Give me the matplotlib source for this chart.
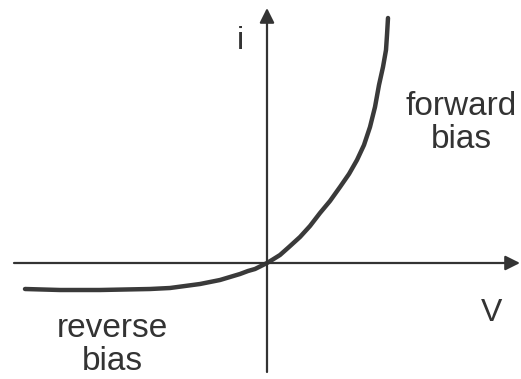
import numpy as np
import matplotlib
matplotlib.use('Agg')
from matplotlib import pyplot as plt

# diode i-V characteristic, sketched (origin at the axis crossing)
volts = [-242, -207, -167, -117, -97, -82, -67, -57, -47, -37, -27, -19, -12, -6, 0,
         5, 13, 22, 33, 43, 53, 63, 73, 82, 90, 97, 103, 108, 112, 116, 119, 120, 121]
current = [-26, -27, -27, -26, -25, -23, -21, -19, -17, -14, -11, -8, -6, -3, 0,
           3, 8, 16, 26, 37, 50, 62, 76, 89, 103, 118, 136, 156, 178, 196, 213, 228, 245]

axis_labels = ['V', 'i']
region_labels = ['forward\nbias', 'reverse\nbias']

ink = '#333333'

fig = plt.figure(figsize=(5.21, 3.79), dpi=100)
ax = fig.add_axes([0, 0, 1, 1])
ax.set_xlim(-267, 254)
ax.set_ylim(-116, 263)
ax.axis('off')

# axes with arrow heads
arrow = dict(arrowstyle='-|>', color=ink, lw=1.6, mutation_scale=22, shrinkA=0, shrinkB=0)
ax.annotate('', xy=(253, 0), xytext=(-253, 0), arrowprops=arrow)
ax.annotate('', xy=(0, 255), xytext=(0, -109), arrowprops=arrow)

# the curve
ax.plot(np.array(volts), np.array(current), color='#3a3a3a', lw=3.2,
        solid_capstyle='round', solid_joinstyle='round')

font = dict(family='Liberation Sans', color=ink)
ax.text(225, -50, axis_labels[0], fontsize=23, ha='center', va='center', **font)
ax.text(-27, 222, axis_labels[1], fontsize=23, ha='center', va='center', **font)
ax.text(194, 140, region_labels[0], fontsize=24, ha='center', va='center',
        linespacing=1.05, **font)
ax.text(-155, -82, region_labels[1], fontsize=24, ha='center', va='center',
        linespacing=1.05, **font)

fig.savefig('out.png', dpi=100)
